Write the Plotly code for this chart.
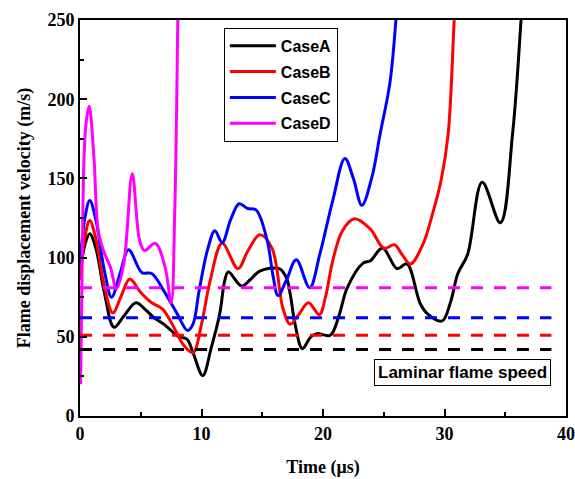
import plotly.graph_objects as go

# Flame displacement velocity (m/s) versus time (us) for four cases
time_a = [0, 0.4, 0.8, 1.3, 2.0, 2.8, 3.6, 4.6, 5.4, 6.1, 6.9, 7.5, 8.0, 8.8, 9.3,
          10.1, 10.8, 11.5, 11.9, 12.2, 13.3, 14.0, 14.8, 16.4, 17.0, 17.3, 17.7,
          18.3, 19.0, 19.5, 20.6, 21.3, 22.0, 23.3, 23.9, 24.9, 26.1, 26.9, 28.0,
          28.6, 29.8, 30.5, 31.1, 31.9, 33.1, 34.6, 35.6, 36.3, 36.5]
vel_a = [88, 108, 115, 106, 78, 56, 63, 71.5, 67, 62, 58, 54, 50.5, 48.5, 40,
         25.5, 43, 64.5, 85, 91, 82, 86, 91.5, 93, 87, 77, 58,
         42.5, 50, 52, 51, 63, 81, 96.5, 98, 106, 93, 96, 71,
         64.5, 60, 72, 90, 102, 147.5, 122, 178, 250, 275]

time_b = [0, 0.4, 0.8, 1.3, 2.0, 2.7, 3.4, 4.1, 5.0, 5.9, 6.8, 7.8, 8.5, 9.3,
          10.0, 10.7, 11.7, 13.0, 13.8, 14.8, 15.8, 16.7, 17.3, 18.0, 18.8, 19.7,
          20.2, 20.8, 21.6, 22.6, 23.9, 25.0, 25.9, 26.5, 27.2, 28.2, 29.1, 29.7,
          30.3, 30.8, 31.0]
vel_b = [86, 113, 123.5, 112, 82, 65, 76, 86.5, 78, 71.5, 67.5, 55, 45, 40,
         58, 85, 109, 93, 104, 114.5, 106, 68, 58, 64, 71.5, 64,
         75, 98, 117, 124.5, 118, 106, 108, 102, 96, 108, 130, 148,
         178, 250, 275]

time_c = [0, 0.4, 0.8, 1.3, 2.0, 2.6, 3.3, 4.0, 5.1, 5.9, 6.9, 8.0, 8.85, 9.3,
          9.8, 10.5, 11.1, 11.7, 12.4, 13.1, 13.8, 14.5, 15.4, 15.9, 16.3, 17.0,
          17.8, 18.9, 19.75, 20.8, 21.8, 22.5, 23.2, 24.0, 24.7, 25.5, 26.0, 26.2]
vel_c = [96, 125, 136, 124, 92, 75, 90, 105, 90.5, 90, 79, 64.5, 54, 58,
         79, 105, 117, 109.5, 124, 134, 131, 130, 111, 88, 76, 86,
         98.7, 81, 102.5, 136, 162.6, 150, 133, 150, 178, 210, 250, 275]

time_d = [0.05, 0.15, 0.33, 0.5, 0.75, 1.15, 1.5, 2.0, 2.5, 3.0, 3.6, 4.3, 4.9,
          5.3, 6.2, 7.0, 7.5, 7.8, 8.05, 8.1]
vel_d = [20, 80, 163, 185, 195.5, 163, 117, 103, 94, 80.5, 96, 153, 111,
         104.5, 109, 94, 71.5, 130, 250, 275]

case_names = ["CaseA", "CaseB", "CaseC", "CaseD"]
case_colors = ["#000000", "#ff0000", "#0000ff", "#ff00ff"]
laminar_speed = [42, 51, 62, 81]
laminar_span = [0, 38.8]

x_ticks = [0, 10, 20, 30, 40]
y_ticks = [0, 50, 100, 150, 200, 250]

fig = go.Figure()

series = [(time_a, vel_a), (time_b, vel_b), (time_c, vel_c), (time_d, vel_d)]
for name, color, (t, v) in zip(case_names, case_colors, series):
    fig.add_trace(go.Scatter(
        x=t, y=v, mode="lines", name=name, legendgroup=name,
        line=dict(color=color, width=3, shape="spline", smoothing=1.0),
    ))

# Laminar flame speed reference levels
for name, color, s in zip(case_names, case_colors, laminar_speed):
    fig.add_trace(go.Scatter(
        x=laminar_span, y=[s, s], mode="lines", showlegend=False,
        line=dict(color=color, width=3, dash="12px,11px"),
    ))

serif_bold = dict(family="Liberation Serif, Times New Roman, serif", size=18,
                  color="black", weight="bold")
sans_bold = dict(family="Liberation Sans, Arial, sans-serif", size=16,
                 color="black", weight="bold")

axis_common = dict(
    showline=True, linewidth=2, linecolor="black", mirror=True,
    ticks="inside", ticklen=7, tickwidth=2, tickcolor="black",
    showgrid=False, zeroline=False, tickfont=serif_bold, automargin=False,
)

fig.update_xaxes(
    range=[0, 40], tickvals=x_ticks,
    minor=dict(dtick=5, ticks="inside", ticklen=4, tickwidth=2, tickcolor="black"),
    title=dict(text="Time (\u03bcs)", font=serif_bold, standoff=18),
    **axis_common,
)
fig.update_yaxes(
    range=[0, 250], tickvals=y_ticks,
    minor=dict(dtick=25, ticks="inside", ticklen=4, tickwidth=2, tickcolor="black"),
    title=dict(text="Flame displacement velocity (m/s)", font=serif_bold, standoff=12),
    **axis_common,
)

fig.add_annotation(
    x=0.788, y=0.109, xref="paper", yref="paper",
    xanchor="center", yanchor="middle",
    text="Laminar flame speed", showarrow=False,
    font=dict(family="Liberation Sans, Arial, sans-serif", size=17,
              color="black", weight="bold"),
    bordercolor="black", borderwidth=1, borderpad=3, bgcolor="white",
)

fig.update_layout(
    width=575, height=479,
    margin=dict(l=80, r=9, t=20, b=63, autoexpand=False),
    plot_bgcolor="white", paper_bgcolor="white",
    legend=dict(
        x=0.296, y=0.98, xanchor="left", yanchor="top",
        bordercolor="black", borderwidth=1, bgcolor="white",
        font=sans_bold, tracegroupgap=2, itemwidth=46,
    ),
)

fig.write_html("out.html")
